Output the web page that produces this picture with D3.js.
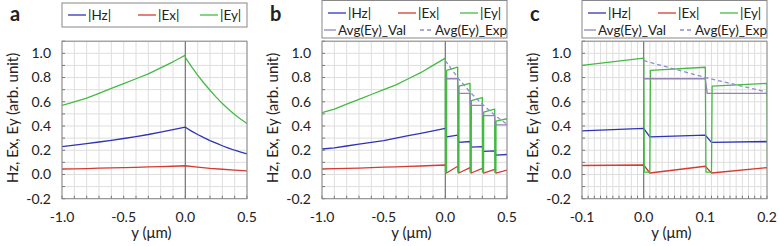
<!DOCTYPE html>
<html>
<head>
<meta charset="utf-8">
<script src="https://cdn.jsdelivr.net/npm/d3@7"></script>
<style>
  body { margin: 0; background: #fff; }
  text { font-family: Lato, "Open Sans", sans-serif; fill: #222; }
</style>
</head>
<body>
<div id="chart"></div>
<script>
// ---- data ----
// panel a : single interface
const aHz = [[-1,0.23],[-0.9,0.242],[-0.8,0.255],[-0.7,0.268],[-0.6,0.282],[-0.5,0.297],[-0.4,0.313],[-0.3,0.33],[-0.2,0.35],[-0.1,0.37],[0,0.39],
             [0.05,0.358],[0.1,0.33],[0.15,0.304],[0.2,0.28],[0.25,0.258],[0.3,0.237],[0.35,0.218],[0.4,0.2],[0.45,0.185],[0.5,0.17]];
const aEx = [[-1,0.045],[-0.9,0.047],[-0.8,0.049],[-0.7,0.052],[-0.6,0.054],[-0.5,0.057],[-0.4,0.059],[-0.3,0.062],[-0.2,0.065],[-0.1,0.068],[0,0.072],
             [0.1,0.06],[0.2,0.05],[0.3,0.043],[0.4,0.036],[0.5,0.03]];
const aEy = [[-1,0.57],[-0.9,0.6],[-0.8,0.63],[-0.7,0.67],[-0.6,0.71],[-0.5,0.75],[-0.4,0.79],[-0.3,0.83],[-0.2,0.88],[-0.1,0.93],[-0.05,0.957],[0,0.985],
             [0.001,0.965],[0.05,0.89],[0.1,0.82],[0.15,0.755],[0.2,0.695],[0.25,0.638],[0.3,0.585],[0.35,0.538],[0.4,0.495],[0.45,0.456],[0.5,0.42]];

// panels b and c : periodic structure (c is a close-up of b)
const bHz = [[-1,0.21],[-0.9,0.22],[-0.8,0.235],[-0.7,0.25],[-0.6,0.265],[-0.5,0.28],[-0.4,0.3],[-0.3,0.32],[-0.2,0.34],[-0.1,0.36],[0,0.38],
             [0.01,0.31],[0.1,0.325],[0.11,0.265],[0.2,0.272],[0.21,0.225],[0.3,0.23],[0.31,0.19],[0.4,0.195],[0.41,0.16],[0.5,0.165]];
const bEx = [[-1,0.045],[-0.9,0.048],[-0.8,0.05],[-0.7,0.053],[-0.6,0.056],[-0.5,0.06],[-0.4,0.063],[-0.3,0.066],[-0.2,0.07],[-0.1,0.074],[0,0.078],
             [0.01,0.012],[0.1,0.068],[0.11,0.012],[0.2,0.057],[0.21,0.012],[0.3,0.05],[0.31,0.012],[0.4,0.042],[0.41,0.012],[0.5,0.036]];
const bEy = [[-1,0.51],[-0.9,0.54],[-0.8,0.58],[-0.7,0.62],[-0.6,0.66],[-0.5,0.7],[-0.4,0.74],[-0.3,0.79],[-0.2,0.84],[-0.1,0.9],[0,0.96],
             [0.001,0.02],[0.01,0.02],[0.011,0.86],[0.1,0.885],
             [0.101,0.02],[0.11,0.02],[0.111,0.73],[0.2,0.752],
             [0.201,0.02],[0.21,0.02],[0.211,0.61],[0.3,0.635],
             [0.301,0.02],[0.31,0.02],[0.311,0.515],[0.4,0.54],
             [0.401,0.02],[0.41,0.02],[0.411,0.44],[0.5,0.46]];
const bAvgVal = [[0,0.79],[0.1,0.79],[0.103,0.67],[0.2,0.67],[0.203,0.57],[0.3,0.57],[0.303,0.485],[0.4,0.485],[0.403,0.41],[0.5,0.41]];
const bAvgExp = [[0,0.94],[0.05,0.87],[0.1,0.8],[0.15,0.74],[0.2,0.68],[0.25,0.63],[0.3,0.58],[0.35,0.535],[0.4,0.49],[0.45,0.45],[0.5,0.415]];

const yTicks = [-0.2, 0, 0.2, 0.4, 0.6, 0.8, 1.0];
const abXTicks = [-1, -0.5, 0, 0.5];
const cXTicks = [-0.1, 0, 0.1, 0.2];

const colHz = "#2f33b5", colEx = "#d63a34", colEy = "#43bb43", colVal = "#9484b4", colExp = "#8c8cd0";

const panels = [
  { label: "a", left: 62, xDomain: [-1, 0.5], xTicks: abXTicks, grid: 0.1,
    series: [{ d: aHz, c: colHz }, { d: aEx, c: colEx }, { d: aEy, c: colEy }], twoRow: false },
  { label: "b", left: 322, xDomain: [-1, 0.5], xTicks: abXTicks, grid: 0.1,
    series: [{ d: bHz, c: colHz }, { d: bEx, c: colEx }, { d: bEy, c: colEy },
             { d: bAvgVal, c: colVal }, { d: bAvgExp, c: colExp, dash: "4,3" }], twoRow: true },
  { label: "c", left: 582, xDomain: [-0.1, 0.2], xTicks: cXTicks, grid: 0.01,
    series: [{ d: bHz, c: colHz }, { d: bEx, c: colEx }, { d: bEy, c: colEy },
             { d: bAvgVal, c: colVal }, { d: bAvgExp, c: colExp, dash: "4,3" }], twoRow: true }
];

const W = 779, H = 246;
const plotW = 185, plotTop = 41.2, plotBottom = 198.7;

const svg = d3.select("#chart").append("svg")
  .attr("width", W).attr("height", H);

panels.forEach((p, i) => {
  const x = d3.scaleLinear().domain(p.xDomain).range([p.left, p.left + plotW]);
  const y = d3.scaleLinear().domain([-0.2, 1.1]).range([plotBottom, plotTop]);
  const g = svg.append("g");

  // grid
  const nX = Math.round((p.xDomain[1] - p.xDomain[0]) / p.grid);
  const gx = d3.range(nX + 1).map(k => p.xDomain[0] + k * p.grid);
  const gy = d3.range(14).map(k => -0.2 + k * 0.1);
  g.selectAll(".gx").data(gx).enter().append("line")
    .attr("x1", d => x(d)).attr("x2", d => x(d)).attr("y1", plotTop).attr("y2", plotBottom)
    .attr("stroke", "#dedede").attr("stroke-width", 1);
  g.selectAll(".gy").data(gy).enter().append("line")
    .attr("x1", p.left).attr("x2", p.left + plotW).attr("y1", d => y(d)).attr("y2", d => y(d))
    .attr("stroke", "#dedede").attr("stroke-width", 1);

  // inward minor ticks
  g.selectAll(".tx").data(gx).enter().append("line")
    .attr("x1", d => x(d)).attr("x2", d => x(d)).attr("y1", plotBottom).attr("y2", plotBottom - 3)
    .attr("stroke", "#777");
  g.selectAll(".ty").data(gy).enter().append("line")
    .attr("x1", p.left).attr("x2", p.left + 3).attr("y1", d => y(d)).attr("y2", d => y(d))
    .attr("stroke", "#777");

  // x = 0 marker line
  g.append("line").attr("x1", x(0)).attr("x2", x(0)).attr("y1", plotTop).attr("y2", plotBottom)
    .attr("stroke", "#777").attr("stroke-width", 1.2);

  // series
  const clipId = "clip" + i;
  svg.append("clipPath").attr("id", clipId).append("rect")
    .attr("x", p.left).attr("y", plotTop).attr("width", plotW).attr("height", plotBottom - plotTop);
  const line = d3.line().x(d => x(d[0])).y(d => y(d[1]));
  p.series.forEach(s => {
    g.append("path").datum(s.d).attr("d", line)
      .attr("clip-path", `url(#${clipId})`)
      .attr("fill", "none").attr("stroke", s.c).attr("stroke-width", 1.3)
      .attr("stroke-linejoin", "round")
      .attr("stroke-dasharray", s.dash || null);
  });

  // frame
  g.append("rect").attr("x", p.left).attr("y", plotTop).attr("width", plotW).attr("height", plotBottom - plotTop)
    .attr("fill", "none").attr("stroke", "#888").attr("stroke-width", 1);

  // tick labels
  g.selectAll(".yl").data(yTicks).enter().append("text")
    .attr("x", p.left - 11).attr("y", d => y(d)).attr("dy", "0.35em")
    .attr("text-anchor", "end").attr("font-size", 14)
    .text(d => d.toFixed(1));
  g.selectAll(".xl").data(p.xTicks).enter().append("text")
    .attr("x", d => x(d)).attr("y", 217).attr("dy", "0.35em")
    .attr("text-anchor", "middle").attr("font-size", 14)
    .text(d => d.toFixed(1));

  // axis titles
  g.append("text").attr("x", p.left + plotW / 2 - 3).attr("y", 233).attr("dy", "0.35em")
    .attr("text-anchor", "middle").attr("font-size", 15).text("y (\u03bcm)");
  g.append("text").attr("transform", `translate(${p.left - 49},${(plotTop + plotBottom) / 2 - 2}) rotate(-90)`)
    .attr("text-anchor", "middle").attr("dy", "0.35em").attr("font-size", 15)
    .text("Hz, Ex, Ey (arb. unit)");

  // panel letter
  g.append("text").attr("x", p.left - 52).attr("y", 21).attr("font-size", 20)
    .attr("font-weight", "bold").attr("font-family", "Liberation Sans, Arial, sans-serif")
    .text(p.label);

  // legend
  const lb = g.append("g");
  lb.append("rect").attr("x", p.left).attr("y", p.twoRow ? 0.5 : 3)
    .attr("width", plotW).attr("height", p.twoRow ? 37.5 : 24)
    .attr("fill", "#fff").attr("stroke", "#888");
  const ry = p.twoRow ? 13 : 15;
  const items = [
    { name: "|Hz|", c: colHz, x1: 6, x2: 24 },
    { name: "|Ex|", c: colEx, x1: 76, x2: 94 },
    { name: "|Ey|", c: colEy, x1: 138, x2: 156 }
  ];
  if (p.twoRow) {
    items.push({ name: "Avg(Ey)_Val", c: colVal, x1: 2, x2: 14, row: 2 });
    items.push({ name: "Avg(Ey)_Exp", c: colExp, x1: 98, x2: 111, row: 2, dash: "4,3" });
  }
  items.forEach(it => {
    const yy = it.row === 2 ? 30 : ry;
    lb.append("line").attr("x1", p.left + it.x1).attr("x2", p.left + it.x2)
      .attr("y1", yy).attr("y2", yy).attr("stroke", it.c).attr("stroke-width", 1.3)
      .attr("stroke-dasharray", it.dash || null);
    lb.append("text").attr("x", p.left + it.x2 + 2).attr("y", yy).attr("dy", "0.35em")
      .attr("font-size", 13.5).text(it.name);
  });
});
</script>
</body>
</html>
